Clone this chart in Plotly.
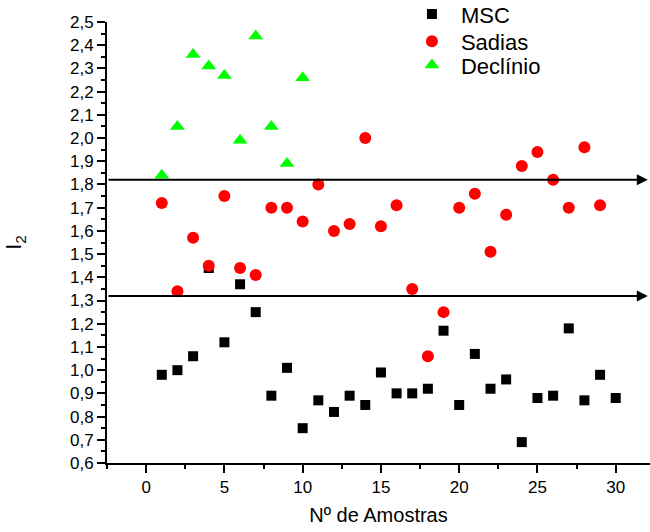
import plotly.graph_objects as go

amostras_msc = list(range(1, 31))
msc = [0.98, 1.00, 1.06, 1.44, 1.12, 1.37, 1.25, 0.89, 1.01, 0.75,
       0.87, 0.82, 0.89, 0.85, 0.99, 0.90, 0.90, 0.92, 1.17, 0.85,
       1.07, 0.92, 0.96, 0.69, 0.88, 0.89, 1.18, 0.87, 0.98, 0.88]

amostras_sadias = list(range(1, 30))
sadias = [1.72, 1.34, 1.57, 1.45, 1.75, 1.44, 1.41, 1.70, 1.70, 1.64,
          1.80, 1.60, 1.63, 2.00, 1.62, 1.71, 1.35, 1.06, 1.25, 1.70,
          1.76, 1.51, 1.67, 1.88, 1.94, 1.82, 1.70, 1.96, 1.71]

amostras_declinio = list(range(1, 11))
declinio = [1.84, 2.05, 2.36, 2.31, 2.27, 1.99, 2.44, 2.05, 1.89, 2.26]

limites = [1.82, 1.32]

FONT = "Liberation Sans, Arial, sans-serif"

fig = go.Figure()
fig.add_trace(go.Scatter(x=amostras_msc, y=msc, mode="markers", name="MSC", legend="legend",
                         marker=dict(symbol="square", size=10, color="#000000", line=dict(width=0))))
fig.add_trace(go.Scatter(x=amostras_sadias, y=sadias, mode="markers", name="Sadias", legend="legend2",
                         marker=dict(symbol="circle", size=12, color="#FF0000", line=dict(width=0))))
fig.add_trace(go.Scatter(x=amostras_declinio, y=declinio, mode="markers", name="Declínio", legend="legend3",
                         marker=dict(symbol="triangle-up", size=13, color="#00FF00", line=dict(width=0))))

for v in limites:
    fig.add_annotation(x=32.05, y=v, ax=-2.5, ay=v, xref="x", yref="y", axref="x", ayref="y",
                       showarrow=True, arrowhead=2, arrowsize=1.1, arrowwidth=2, arrowcolor="#000000", text="")

leg = dict(x=0.545, xanchor="left", yanchor="middle",
           font=dict(family=FONT, size=22, color="#000000"),
           bgcolor="rgba(0,0,0,0)", itemwidth=48)

fig.update_layout(
    width=650, height=532,
    margin=dict(l=107, r=0, t=22, b=69, autoexpand=False),
    paper_bgcolor="white", plot_bgcolor="white",
    separators=",.",
    font=dict(family=FONT, size=17, color="#000000"),
    showlegend=True,
    legend=dict(leg, y=1.0175),
    legend2=dict(leg, y=0.956),
    legend3=dict(leg, y=0.902),
)
fig.update_xaxes(range=[-2.5, 32.19], tickmode="linear", tick0=0, dtick=5,
                 ticks="outside", ticklen=8, tickwidth=2, tickcolor="#000000",
                 minor=dict(ticks="outside", ticklen=4, tickwidth=2, tickcolor="#000000", dtick=2.5, tick0=0, showgrid=False),
                 showline=True, linecolor="#000000", linewidth=2, showgrid=False, zeroline=False,
                 title=dict(text="Nº de Amostras", font=dict(family=FONT, size=20), standoff=12),
                 tickfont=dict(family=FONT, size=17))
fig.update_yaxes(range=[0.6, 2.5], tickmode="linear", tick0=0.6, dtick=0.1, tickformat=".1f",
                 ticks="outside", ticklen=8, tickwidth=2, tickcolor="#000000",
                 minor=dict(ticks="outside", ticklen=4, tickwidth=2, tickcolor="#000000", dtick=0.05, tick0=0.6, showgrid=False),
                 showline=True, linecolor="#000000", linewidth=2, showgrid=False, zeroline=False,
                 title=dict(text="I<sub>2</sub>", font=dict(family=FONT, size=22), standoff=42),
                 tickfont=dict(family=FONT, size=17))

fig.write_html("out.html", config={"displayModeBar": False},
               post_script="document.body.style.margin='0px';document.body.style.overflow='hidden';")
